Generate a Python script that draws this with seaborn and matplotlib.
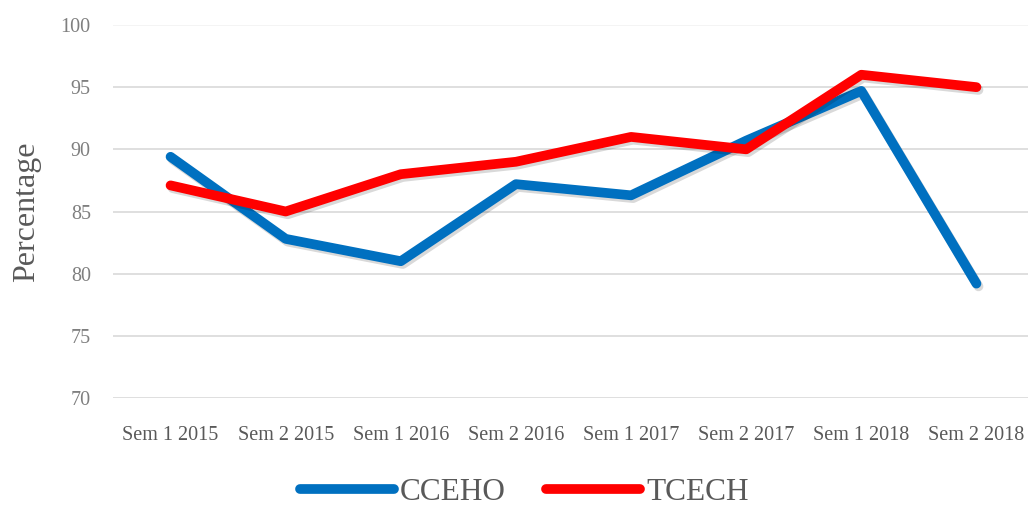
import matplotlib
matplotlib.use("Agg")
import matplotlib.pyplot as plt
import matplotlib.patheffects as pe
import seaborn as sns
import pandas as pd

semesters = ["Sem 1 2015", "Sem 2 2015", "Sem 1 2016", "Sem 2 2016",
             "Sem 1 2017", "Sem 2 2017", "Sem 1 2018", "Sem 2 2018"]
cceho = [89.4, 82.8, 81.0, 87.2, 86.3, 90.7, 94.7, 79.2]
tcech = [87.1, 85.0, 88.0, 89.0, 91.0, 90.0, 96.0, 95.0]
series_names = ["CCEHO", "TCECH"]
y_ticks = [70, 75, 80, 85, 90, 95, 100]

df = pd.DataFrame({
    "Semester": semesters * 2,
    "Percentage": cceho + tcech,
    "Series": [series_names[0]] * len(semesters) + [series_names[1]] * len(semesters),
})
df["pos"] = df["Semester"].map({s: i for i, s in enumerate(semesters)})

sns.set_theme(style="white")
plt.rcParams["font.family"] = ["Liberation Serif", "DejaVu Serif"]

fig = plt.figure(figsize=(10.28, 5.14), dpi=100)
ax = fig.add_axes([113 / 1028, (514 - 398) / 514, 921 / 1028, (398 - 25) / 514])

palette = {"CCEHO": "#0070C0", "TCECH": "#FF0000"}
sns.lineplot(data=df, x="pos", y="Percentage", hue="Series", palette=palette,
             linewidth=7, ax=ax, legend=False, sort=False)
for line in ax.get_lines():
    line.set_solid_capstyle("round")
    line.set_solid_joinstyle("round")
    line.set_path_effects([pe.SimpleLineShadow(offset=(1.5, -2), alpha=0.15, shadow_color="black"),
                           pe.Normal()])

ax.set_xlim(-0.5, len(semesters) - 0.5)
ax.set_ylim(70, 100)
ax.set_yticks(y_ticks)
ax.set_xticks(range(len(semesters)))
ax.set_xticklabels(semesters)
for y in y_ticks:
    ax.axhline(y, color="#d9d9d9" if y < 100 else "#f2f2f2", linewidth=1.2, zorder=0)
ax.grid(False)
for s in ax.spines.values():
    s.set_visible(False)
ax.tick_params(axis="x", length=0, pad=20, labelsize=14.5, labelcolor="#595959")
ax.tick_params(axis="y", length=0, pad=16, labelsize=14.5, labelcolor="#7f7f7f")
ax.set_xlabel("")
ax.set_ylabel("Percentage", fontsize=23, color="#595959", labelpad=14)

handles = [plt.Line2D([0], [0], color=palette[n], linewidth=7, solid_capstyle="round")
           for n in series_names]
fig.legend(handles, series_names, loc="center", bbox_to_anchor=(0.51, 0.042), ncol=2,
           frameon=False, handlelength=3.0, handletextpad=0.2, columnspacing=1.3,
           prop={"size": 22.5, "family": ["Liberation Serif", "DejaVu Serif"]},
           labelcolor="#595959")

fig.savefig("out.png", dpi=100)
